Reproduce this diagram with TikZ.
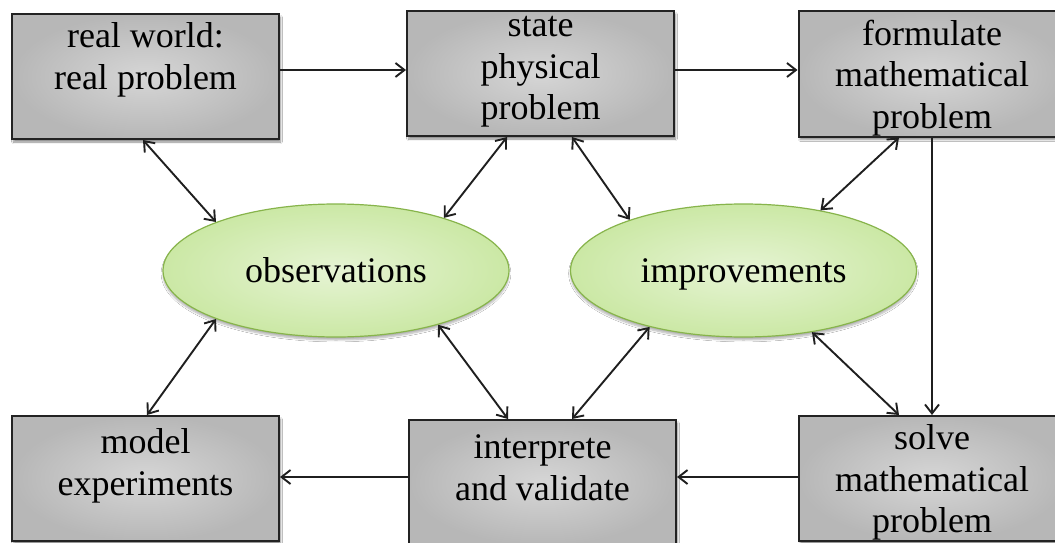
\documentclass[tikz,border=0pt]{standalone}
\usepackage{fontspec}
\setmainfont{Liberation Serif}
\usetikzlibrary{arrows.meta,shapes.geometric,shadows.blur}
\definecolor{boxin}{RGB}{214,214,214}
\definecolor{boxout}{RGB}{183,183,183}
\definecolor{boxline}{RGB}{35,35,35}
\definecolor{elin}{RGB}{230,244,212}
\definecolor{elout}{RGB}{203,232,165}
\definecolor{elline}{RGB}{135,180,75}
\tikzset{
  box/.style={rectangle, draw=boxline, line width=2pt, inner color=boxin, outer color=boxout,
    minimum width=267pt, minimum height=125pt, inner sep=0pt,
    blur shadow={shadow xshift=1.5pt, shadow yshift=-3pt, shadow blur steps=6, shadow opacity=45}},
  oval/.style={ellipse, draw=elline, line width=1.2pt, inner color=elin, outer color=elout,
    minimum width=346pt, minimum height=133pt, inner sep=0pt,
    font=\fontsize{36}{41.5}\selectfont, text height=24pt, text depth=0pt,
    blur shadow={shadow xshift=0pt, shadow yshift=-3pt, shadow blur steps=6, shadow opacity=30}},
  txt/.style={align=center, inner sep=0pt, font=\fontsize{36}{41.5}\selectfont},
  conn/.style={line width=1.9pt, draw=black!88},
  >={Straight Barb[length=9pt,width=14pt]}
}
\begin{document}
\begin{tikzpicture}[x=1pt,y=-1pt]
\clip (0,0) rectangle (1055,543);
\fill[white] (0,0) rectangle (1055,543);
% boxes
\node[box] (real) at (145.5,76.5) {};
\node[box] (state) at (540.5,73.5) {};
\node[box] (form) at (932,74) {};
\node[box] (model) at (145.5,478.5) {};
\node[box] (interp) at (542.5,482.5) {};
\node[box] (solve) at (932,478.5) {};
% texts
\node[txt] (treal) at (145.5,60) {\strut real world:\\\strut real problem};
\node[txt] (tstate) at (540.5,70) {\strut state\\\strut physical\\\strut problem};
\node[txt] (tform) at (932,78.2) {\strut formulate\\\strut mathematical\\\strut problem};
\node[txt] (tmodel) at (145.5,466.2) {\strut model\\\strut experiments};
\node[txt] (tinterp) at (542.5,471) {\strut interprete\\\strut and validate};
\node[txt] (tsolve) at (932,482.7) {\strut solve\\\strut mathematical\\\strut problem};
% ellipses
\node[oval] (obs) at (336,270.5) {observations};
\node[oval] (imp) at (743.5,270.5) {improvements};
% main flow
\draw[conn,->] ([yshift=6.5pt]real.east) -- ([yshift=3.5pt]state.west);
\draw[conn,->] ([yshift=3.5pt]state.east) -- ([yshift=4pt]form.west);
\draw[conn,->] (form.south) -- (solve.north);
\draw[conn,->] ([yshift=1.5pt]solve.west) -- ([yshift=5.5pt]interp.east);
\draw[conn,->] ([yshift=5.5pt]interp.west) -- ([yshift=1.5pt]model.east);
% double arrows
\draw[conn,<->] ([xshift=-2.5pt]real.south) -- (obs.158.8);
\draw[conn,<->] ([xshift=-33.5pt]state.south) -- (obs.26.8);
\draw[conn,<->] ([xshift=31.5pt]state.south) -- (imp.156.5);
\draw[conn,<->] ([xshift=-33pt]form.south) -- (imp.38.3);
\draw[conn,<->] (obs.202) -- ([xshift=1.5pt]model.north);
\draw[conn,<->] (obs.332.6) -- ([xshift=-34.5pt]interp.north);
\draw[conn,<->] (imp.211.2) -- ([xshift=29.5pt]interp.north);
\draw[conn,<->] (imp.318.5) -- ([xshift=-33pt]solve.north);
\end{tikzpicture}
\end{document}
